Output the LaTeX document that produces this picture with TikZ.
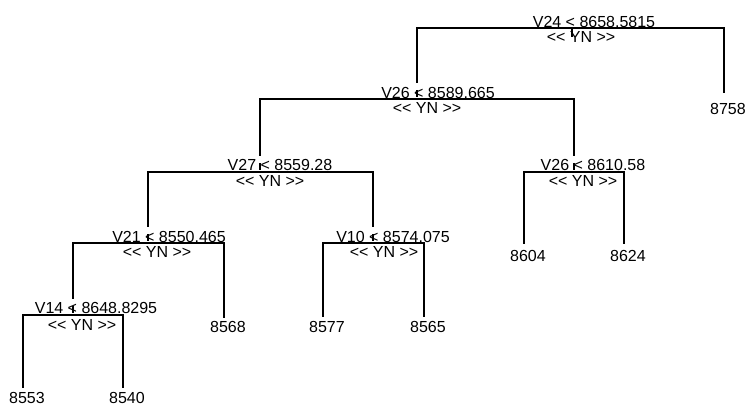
\documentclass[tikz,border=0pt]{standalone}
\usepackage{fontspec}
\setmainfont{Liberation Sans}
\usetikzlibrary{positioning}

% keep << and >> from being turned into guillemets
\newcommand\yesno{<\kern0pt< YN >\kern0pt>}

\begin{document}
\begin{tikzpicture}[
  x=1pt, y=-1pt,
  every node/.style={font=\fontsize{16}{19}\selectfont, inner sep=0pt},
  split/.style={anchor=base},
  leaf/.style={anchor=base},
  edge/.style={line width=1.3pt, line cap=rect},
]
\useasboundingbox (0,0) rectangle (748,405);

% Split points
\coordinate (n1) at (572,28);
\coordinate (n2) at (417,99);
\coordinate (n3) at (260,172);
\coordinate (n4) at (574,172);
\coordinate (n5) at (148,243);
\coordinate (n6) at (373,243);
\coordinate (n7) at (73,315);

% Tops of the inner branches
\foreach \n in {2,...,7}
  \coordinate (t\n) at ([shift={(0,-17)}]n\n);

% Ends of the leaf branches
\coordinate (e1) at (724,92);
\coordinate (e2) at (524,243);
\coordinate (e3) at (624,243);
\coordinate (e4) at (224,317);
\coordinate (e5) at (323,316);
\coordinate (e6) at (424,316);
\coordinate (e7) at (23,387);
\coordinate (e8) at (123,387);

% Branches
\draw[edge] (t2) |- (n1) -| (e1);
\draw[edge] (t3) |- (n2) -| (t4);
\draw[edge] (t5) |- (n3) -| (t6);
\draw[edge] (e2) |- (n4) -| (e3);
\draw[edge] (t7) |- (n5) -| (e4);
\draw[edge] (e5) |- (n6) -| (e6);
\draw[edge] (e7) |- (n7) -| (e8);

% Small ticks at the splits
\draw[edge] (n1) -- ++(0,8);
\foreach \n in {2,...,7}
  \draw[edge] (n\n) ++(0,-8) -- ++(0,5);

% Split labels
\node[split] (c1) at ([shift={(22,-1)}]n1) {V24 < 8658.5815};
\node[split] (y1) at ([shift={(9,14)}]n1) {\yesno};
\node[split] (c2) at ([shift={(21,-1)}]n2) {V26 < 8589.665};
\node[split] (y2) at ([shift={(10,14)}]n2) {\yesno};
\node[split] (c3) at ([shift={(20,-2)}]n3) {V27 < 8559.28};
\node[split] (y3) at ([shift={(10,14)}]n3) {\yesno};
\node[split] (c4) at ([shift={(19,-2)}]n4) {V26 < 8610.58};
\node[split] (y4) at ([shift={(9,14)}]n4) {\yesno};
\node[split] (c5) at ([shift={(21,-1)}]n5) {V21 < 8550.465};
\node[split] (y5) at ([shift={(9,14)}]n5) {\yesno};
\node[split] (c6) at ([shift={(20,-1)}]n6) {V10 < 8574.075};
\node[split] (y6) at ([shift={(11,14)}]n6) {\yesno};
\node[split] (c7) at ([shift={(23,-2)}]n7) {V14 < 8648.8295};
\node[split] (y7) at ([shift={(9,15)}]n7) {\yesno};

% Leaf labels
\node[leaf] (l1) at (728,114) {8758};
\node[leaf] (l2) at (528,261) {8604};
\node[leaf] (l3) at (628,261) {8624};
\node[leaf] (l4) at (228,332) {8568};
\node[leaf] (l5) at (327,332) {8577};
\node[leaf] (l6) at (428,332) {8565};
\node[leaf] (l7) at (27,403) {8553};
\node[leaf] (l8) at (127,403) {8540};

\end{tikzpicture}
\end{document}
